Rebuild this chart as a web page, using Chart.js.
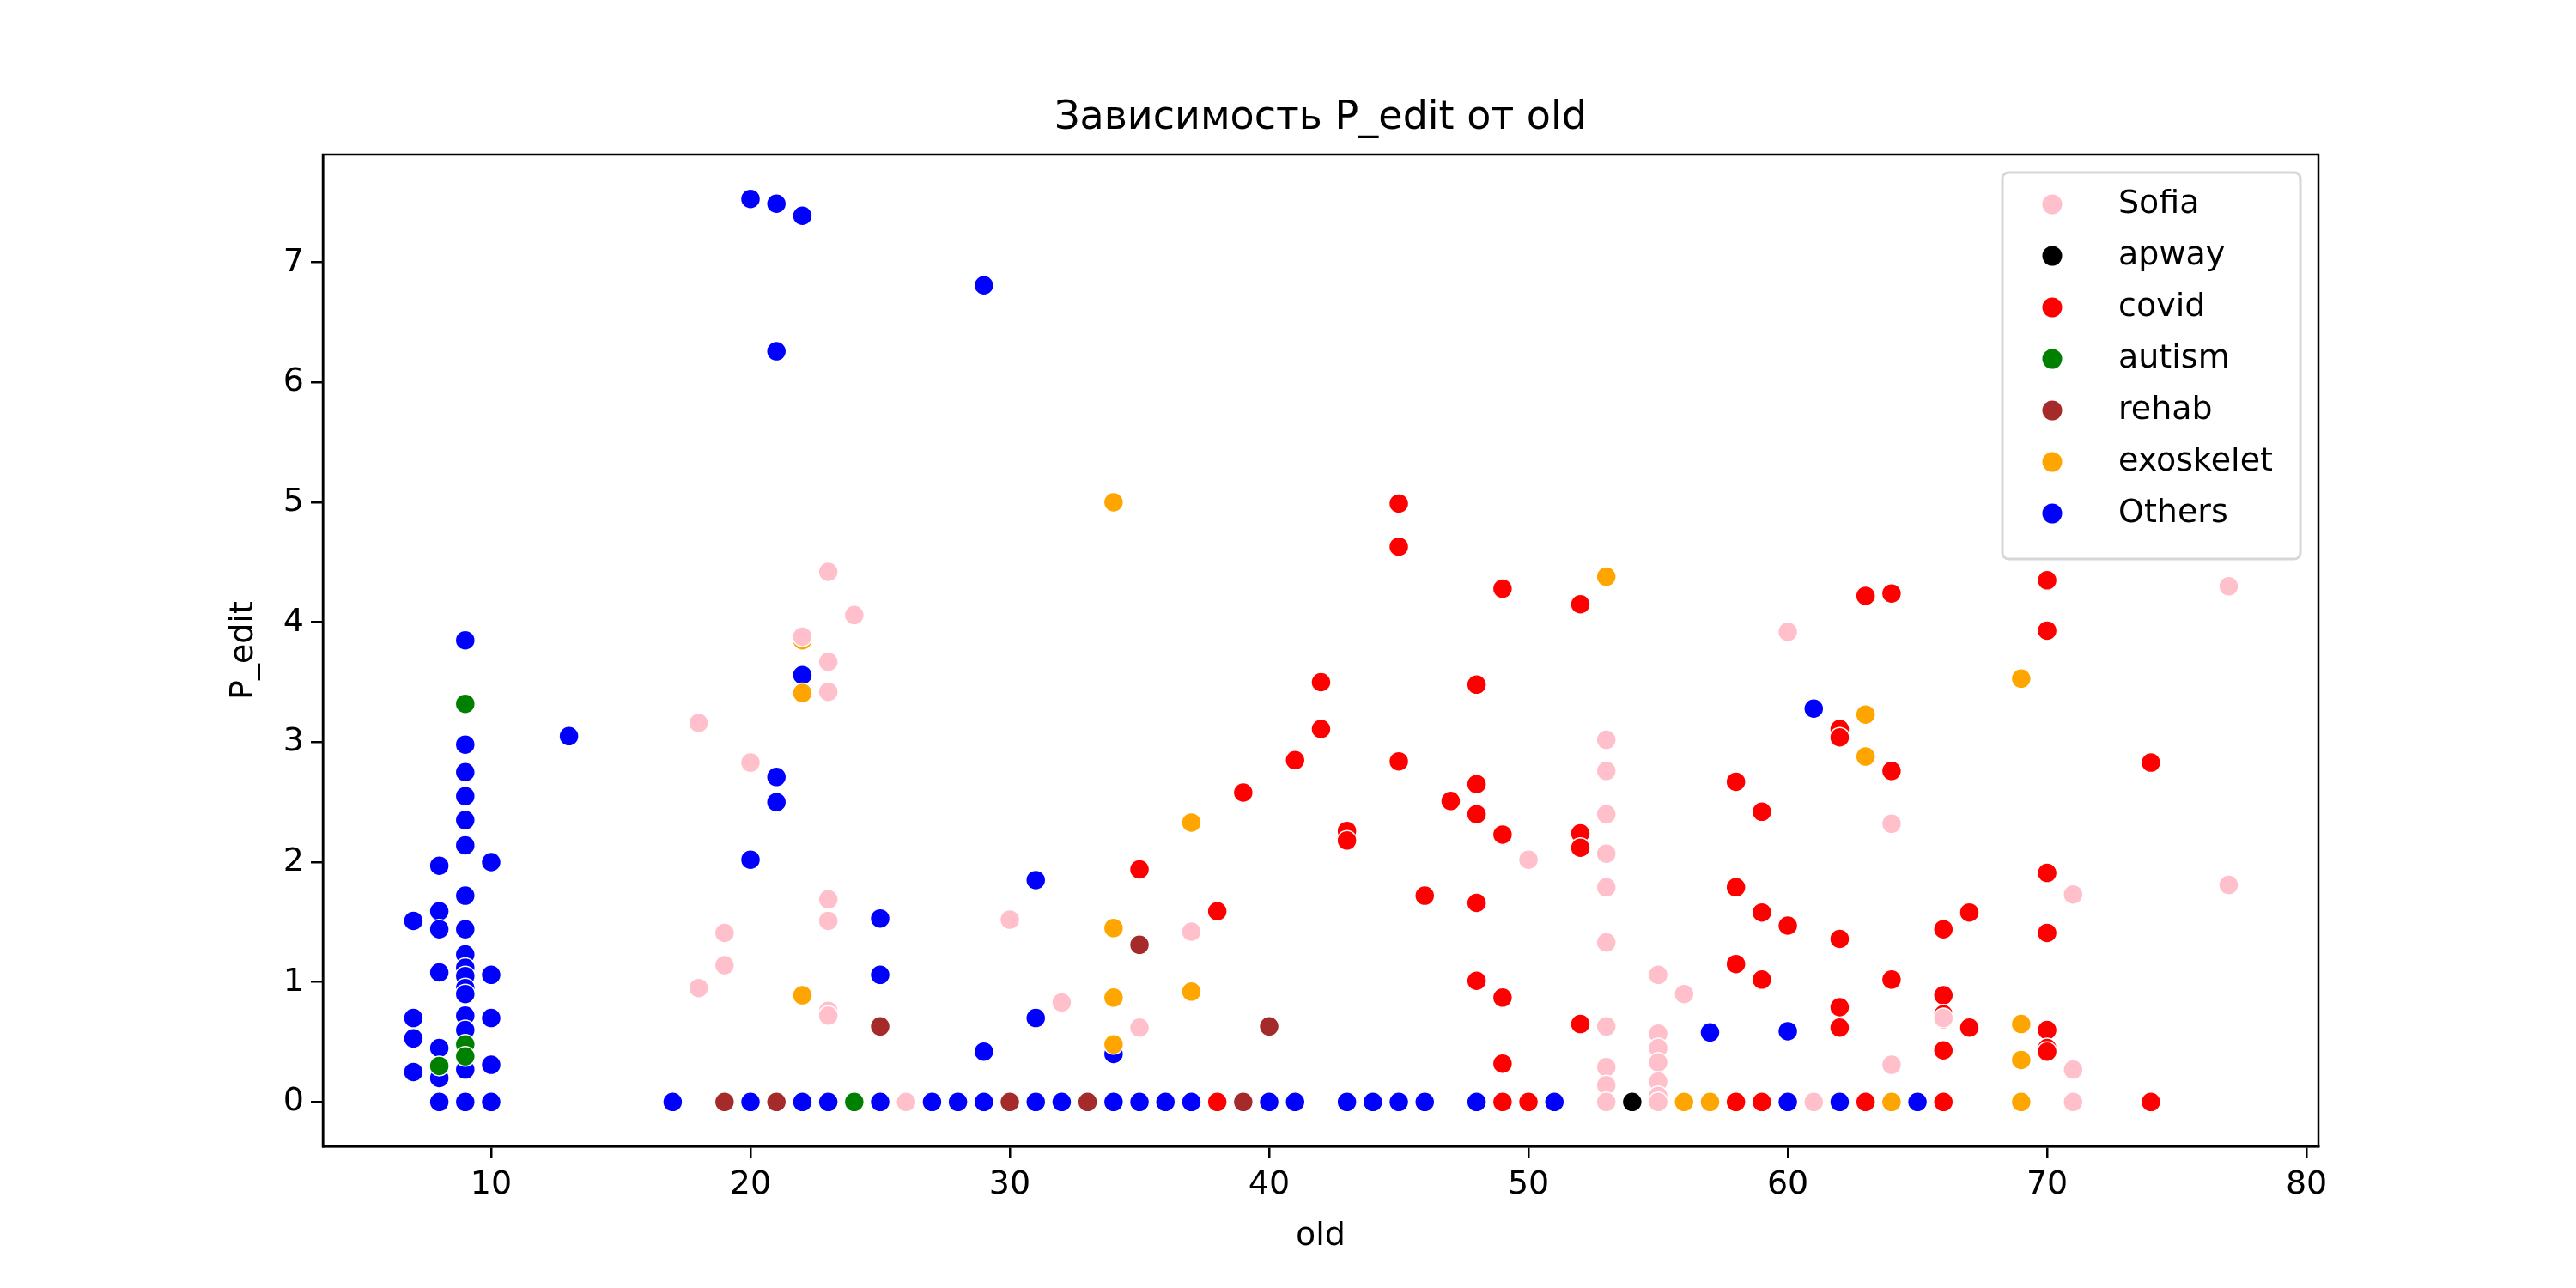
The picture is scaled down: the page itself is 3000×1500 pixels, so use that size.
<!DOCTYPE html>
<html><head><meta charset="utf-8">
<script src="https://cdn.jsdelivr.net/npm/chart.js@4"></script>
<style>html,body{margin:0;padding:0;background:#fff}#w{width:3000px;height:1500px}</style>
</head><body><div id="w"><canvas id="c"></canvas></div>
<script>
const categories = ["Sofia","apway","covid","autism","rehab","exoskelet","Others"];
const colors = ["pink","black","red","green","brown","orange","blue"];
const xTicks = [10,20,30,40,50,60,70,80];
const yTicks = [0,1,2,3,4,5,6,7];
const sofiaX = [18,18,19,19,20,22,23,23,23,23,23,23,23,24,26,30,32,35,37,50,53,53,53,53,53,53,53,53,53,53,55,55,55,55,55,55,55,56,60,61,64,64,66,71,71,71,77,77];
const sofiaY = [3.16,0.95,1.41,1.14,2.83,3.88,4.42,3.67,3.42,1.69,1.51,0.76,0.72,4.06,0,1.52,0.83,0.62,1.42,2.02,3.02,2.76,2.40,2.07,1.79,1.33,0.63,0.29,0.14,0,1.06,0.57,0.45,0.33,0.17,0.05,0,0.90,3.92,0,2.32,0.31,0.70,1.73,0.27,0,4.30,1.81];
const apwayX = [54];
const apwayY = [0];
const covidX = [35,38,38,39,41,42,42,43,43,45,45,45,46,47,48,48,48,48,48,49,49,49,49,49,50,52,52,52,52,58,58,58,58,59,59,59,59,60,62,62,62,62,62,63,63,64,64,64,66,66,66,66,66,66,67,67,70,70,70,70,70,70,70,74,74];
const covidY = [1.94,1.59,0,2.58,2.85,3.50,3.11,2.26,2.18,4.99,4.63,2.84,1.72,2.51,3.48,2.65,2.40,1.66,1.01,4.28,2.23,0.87,0.32,0,0,4.15,2.24,2.12,0.65,2.67,1.79,1.15,0,2.42,1.58,1.02,0,1.47,3.11,3.04,1.36,0.79,0.62,4.22,0,4.24,2.76,1.02,1.44,0.89,0.73,0.69,0.43,0,1.58,0.62,4.35,3.93,1.91,1.41,0.60,0.45,0.42,2.83,0];
const autismX = [9,9,9,8,24];
const autismY = [3.32,0.48,0.38,0.30,0];
const rehabX = [19,21,25,30,33,35,39,40];
const rehabY = [0,0,0.63,0,0,1.31,0,0.63];
const exoX = [22,22,22,34,34,34,34,37,37,53,56,57,63,63,64,69,69,69,69];
const exoY = [3.85,3.41,0.89,5.00,1.45,0.87,0.48,2.33,0.92,4.38,0,0,3.23,2.88,0,3.53,0.65,0.35,0];
const othersX = [7,7,7,7,8,8,8,8,8,8,8,9,9,9,9,9,9,9,9,9,9,9,9,9,9,9,9,9,10,10,10,10,10,13,17,20,20,20,21,21,21,21,21,22,22,22,23,25,25,25,27,28,29,29,29,31,31,31,32,34,34,35,36,37,40,41,43,44,45,46,48,51,57,60,60,61,62,65];
const othersY = [1.51,0.70,0.53,0.25,1.97,1.59,1.44,1.08,0.45,0.20,0,3.85,2.98,2.75,2.55,2.35,2.14,1.72,1.44,1.23,1.12,1.05,0.95,0.90,0.72,0.60,0.27,0,2.00,1.06,0.70,0.31,0,3.05,0,7.53,2.02,0,7.49,6.26,2.71,2.50,0,7.39,3.56,0,0,1.53,1.06,0,0,0,6.81,0.42,0,1.85,0.70,0,0,0.40,0,0,0,0,0,0,0,0,0,0,0,0,0.58,0.59,0,3.28,0,0];

const seriesX = [sofiaX,apwayX,covidX,autismX,rehabX,exoX,othersX];
const seriesY = [sofiaY,apwayY,covidY,autismY,rehabY,exoY,othersY];
const FONT = "'DejaVu Sans', sans-serif";

const datasets = categories.map((n,i)=>({
  label:n,
  data: seriesX[i].map((x,j)=>({x:x,y:seriesY[i][j]})),
  backgroundColor: colors[i], borderColor:'#fff', borderWidth:1.5, pointRadius:11.5, pointHoverRadius:11.5
}));

const deco = {
  id:'deco',
  afterDraw(chart){
    const ctx=chart.ctx, a=chart.chartArea;
    ctx.save();
    ctx.fillStyle='#000'; ctx.textAlign='center'; ctx.textBaseline='middle';
    ctx.font="46px "+FONT;
    ctx.fillText("Зависимость P_edit от old",(a.left+a.right)/2,138);
    ctx.font="38px "+FONT;
    ctx.fillText("old",(a.left+a.right)/2,1440);
    ctx.save(); ctx.translate(284,(a.top+a.bottom)/2); ctx.rotate(-Math.PI/2);
    ctx.fillText("P_edit",0,0); ctx.restore();
    // frame
    ctx.strokeStyle='#000'; ctx.lineWidth=2.5;
    ctx.strokeRect(a.left,a.top,a.right-a.left,a.bottom-a.top);
    // legend
    const lx=2332, ly=201, lw=347, lh=60*7+30;
    ctx.fillStyle='rgba(255,255,255,0.8)'; ctx.strokeStyle='#d6d6d6'; ctx.lineWidth=3;
    ctx.beginPath(); ctx.roundRect(lx,ly,lw,lh,7); ctx.fill(); ctx.stroke();
    ctx.textAlign='left';
    categories.forEach((n,i)=>{
      const y=ly+37+i*60;
      ctx.fillStyle=colors[i]; ctx.beginPath(); ctx.arc(2390,y,11.5,0,Math.PI*2); ctx.fill();
      ctx.fillStyle='#000'; ctx.fillText(n,2467,y);
    });
    ctx.restore();
  }
};

new Chart(document.getElementById('c'),{
  type:'scatter',
  data:{datasets},
  options:{
    responsive:true, maintainAspectRatio:false, animation:false, devicePixelRatio:1,
    layout:{padding:{top:180,right:300,left:0,bottom:0}},
    plugins:{legend:{display:false},title:{display:false},tooltip:{enabled:false}},
    scales:{
      x:{type:'linear',min:3.51,max:80.46,
        afterBuildTicks(s){s.ticks=xTicks.map(v=>({value:v}));},
        afterFit(s){s.height=165;},
        grid:{drawOnChartArea:false,tickLength:14,color:'#000',lineWidth:2.5},
        border:{color:'#000',width:2.5},
        ticks:{color:'#000',font:{size:38,family:FONT},padding:8,maxRotation:0}},
      y:{type:'linear',min:-0.37,max:7.9,
        afterBuildTicks(s){s.ticks=yTicks.map(v=>({value:v}));},
        afterFit(s){s.width=376;},
        grid:{drawOnChartArea:false,tickLength:14,color:'#000',lineWidth:2.5},
        border:{color:'#000',width:2.5},
        ticks:{color:'#000',font:{size:38,family:FONT},padding:8}}
    }
  },
  plugins:[deco]
});
</script></body></html>
